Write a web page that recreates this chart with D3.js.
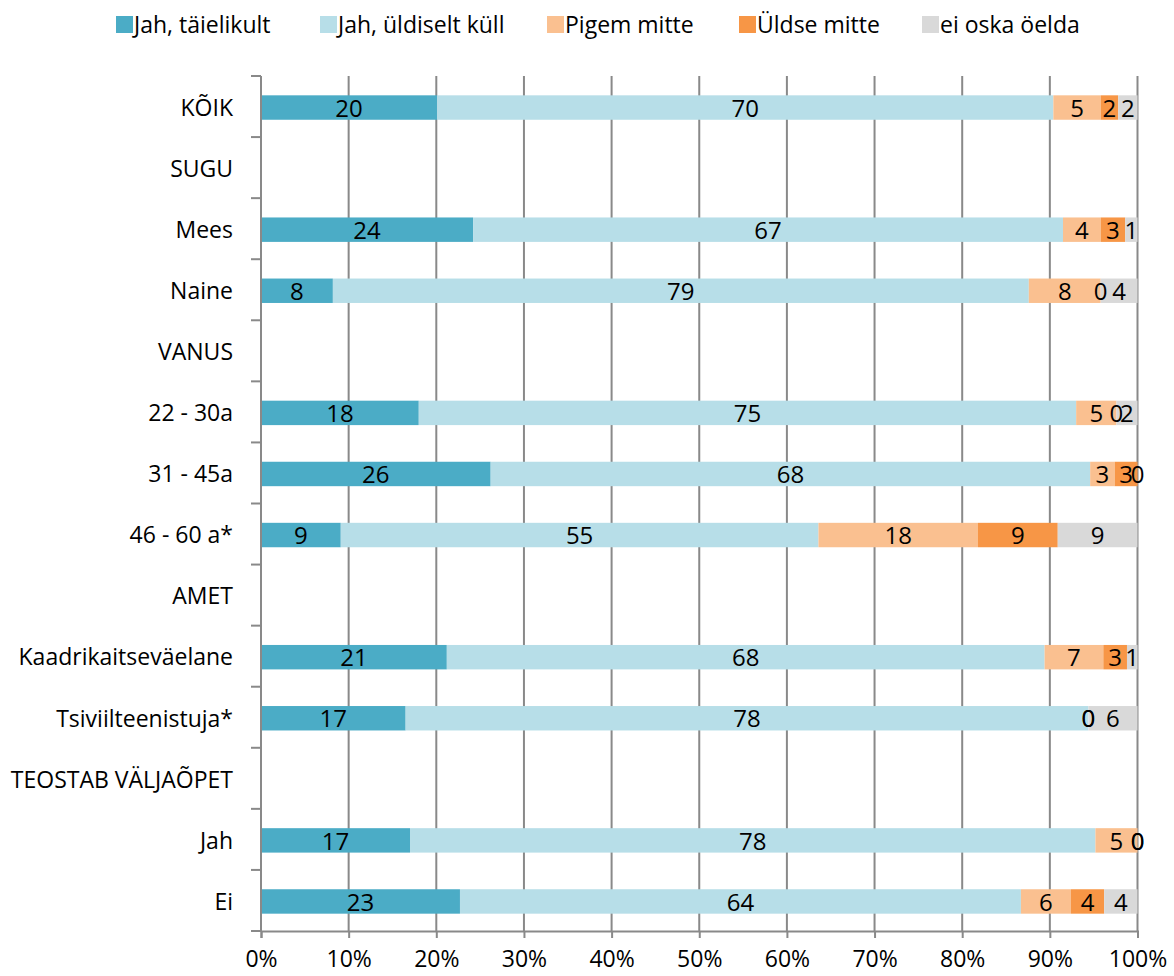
<!DOCTYPE html>
<html>
<head>
<meta charset="utf-8">
<script src="https://cdn.jsdelivr.net/npm/d3@7"></script>
<style>
  body { margin: 0; background: #fff; }
  text { font-family: "Open Sans", sans-serif; fill: #000; }
</style>
</head>
<body>
<div id="chart"></div>
<script>
// categories, header rows have no values (null)
const categories = ["KÕIK", "SUGU", "Mees", "Naine", "VANUS", "22 - 30a", "31 - 45a", "46 - 60 a*",
                    "AMET", "Kaadrikaitseväelane", "Tsiviilteenistuja*", "TEOSTAB VÄLJAÕPET", "Jah", "Ei"];

const seriesNames = ["Jah, täielikult", "Jah, üldiselt küll", "Pigem mitte", "Üldse mitte", "ei oska öelda"];
const seriesColors = ["#4BACC6", "#B7DEE8", "#FAC090", "#F79646", "#D9D9D9"];

const taielikult = [20.1, null, 24.2, 8.2, null, 18.0, 26.2, 9.1, null, 21.2, 16.5, null, 17.0, 22.7];
const uldiselt   = [70.3, null, 67.3, 79.4, null, 75.0, 68.4, 54.5, null, 68.2, 77.9, null, 78.2, 64.0];
const pigem      = [5.4,  null, 4.3,  8.2,  null, 4.6,  2.8,  18.2, null, 6.7,  0,    null, 4.8,  5.7];
const uldse      = [2.0,  null, 2.8,  0,    null, 0,    2.6,  9.1,  null, 2.7,  0,    null, 0,    3.8];
const eiOska     = [2.2,  null, 1.4,  4.2,  null, 2.4,  0,    9.1,  null, 1.2,  5.6,  null, 0,    3.8];

const xTicks = [0, 10, 20, 30, 40, 50, 60, 70, 80, 90, 100];

const allSeries = [taielikult, uldiselt, pigem, uldse, eiOska];

const W = 1174, H = 976;
const margin = {top: 76, right: 36.5, bottom: 45, left: 261};
const width = W - margin.left - margin.right,
      height = H - margin.top - margin.bottom;

const svg = d3.select("#chart").append("svg")
    .attr("width", W)
    .attr("height", H);

const g = svg.append("g")
    .attr("transform", `translate(${margin.left},${margin.top})`);

const x = d3.scaleLinear().domain([0, 100]).range([0, width]);
const y = d3.scaleBand()
    .domain(categories)
    .range([0, height])
    .paddingInner(0.6)
    .paddingOuter(0.3);

const gridColor = "#898989";

// vertical gridlines
g.append("g")
  .selectAll("line")
  .data(xTicks.slice(1))
  .enter()
  .append("line")
    .attr("x1", d => x(d))
    .attr("x2", d => x(d))
    .attr("y1", 0)
    .attr("y2", height)
    .attr("stroke", gridColor)
    .attr("stroke-width", 2);

// stacked rows
const rows = categories.map((c, i) => {
    let acc = 0;
    const segs = [];
    allSeries.forEach((s, k) => {
        if (s[i] == null) return;
        segs.push({cat: c, k: k, x0: acc, x1: acc + s[i], v: s[i]});
        acc += s[i];
    });
    return segs;
});
const segs = rows.flat();

g.append("g")
  .selectAll("rect")
  .data(segs)
  .enter()
  .append("rect")
    .attr("x", d => x(d.x0))
    .attr("y", d => y(d.cat) + 1)
    .attr("width", d => x(d.x1) - x(d.x0))
    .attr("height", y.bandwidth())
    .attr("fill", d => seriesColors[d.k]);

g.append("g")
  .selectAll("text")
  .data(segs)
  .enter()
  .append("text")
    .attr("x", d => (x(d.x0) + x(d.x1)) / 2)
    .attr("y", d => y(d.cat) + 1 + y.bandwidth() / 2)
    .attr("dy", "0.38em")
    .attr("text-anchor", "middle")
    .style("font-size", "24px")
    .text(d => Math.round(d.v));

// y axis: labels at band centres, ticks at band boundaries
const yAxis = g.append("g");
yAxis.append("line")
    .attr("x1", 0).attr("x2", 0)
    .attr("y1", 0).attr("y2", height)
    .attr("stroke", gridColor).attr("stroke-width", 2);

const bounds = d3.range(categories.length + 1).map(i => i * y.step());
yAxis.selectAll("line.tick")
  .data(bounds)
  .enter()
  .append("line")
    .attr("class", "tick")
    .attr("x1", -10).attr("x2", 0)
    .attr("y1", d => d).attr("y2", d => d)
    .attr("stroke", gridColor).attr("stroke-width", 2);

yAxis.selectAll("text")
  .data(categories)
  .enter()
  .append("text")
    .attr("x", -28)
    .attr("y", d => y(d) + y.bandwidth() / 2 + 1)
    .attr("dy", "0.36em")
    .attr("text-anchor", "end")
    .style("font-size", "23px")
    .text(d => d);

// x axis
const xAxis = g.append("g")
    .attr("transform", `translate(0,${height})`)
    .call(d3.axisBottom(x).tickValues(xTicks).tickSize(7).tickPadding(13).tickFormat(d => d + "%"));
xAxis.select(".domain").attr("stroke", gridColor).attr("stroke-width", 2);
xAxis.selectAll(".tick line").attr("stroke", gridColor).attr("stroke-width", 2);
xAxis.selectAll(".tick text")
    .style("font-size", "23px")
    .style("font-family", "'Open Sans', sans-serif")
    .attr("fill", "#000");

// legend
const legendX = [116, 320, 547, 739, 922];
const legend = svg.append("g");
seriesNames.forEach((name, k) => {
    const lg = legend.append("g").attr("transform", `translate(${legendX[k]},16)`);
    lg.append("rect")
        .attr("width", 17).attr("height", 17)
        .attr("fill", seriesColors[k]);
    lg.append("text")
        .attr("x", 18)
        .attr("y", 9)
        .attr("dy", "0.36em")
        .style("font-size", "23px")
        .text(name);
});
</script>
</body>
</html>
